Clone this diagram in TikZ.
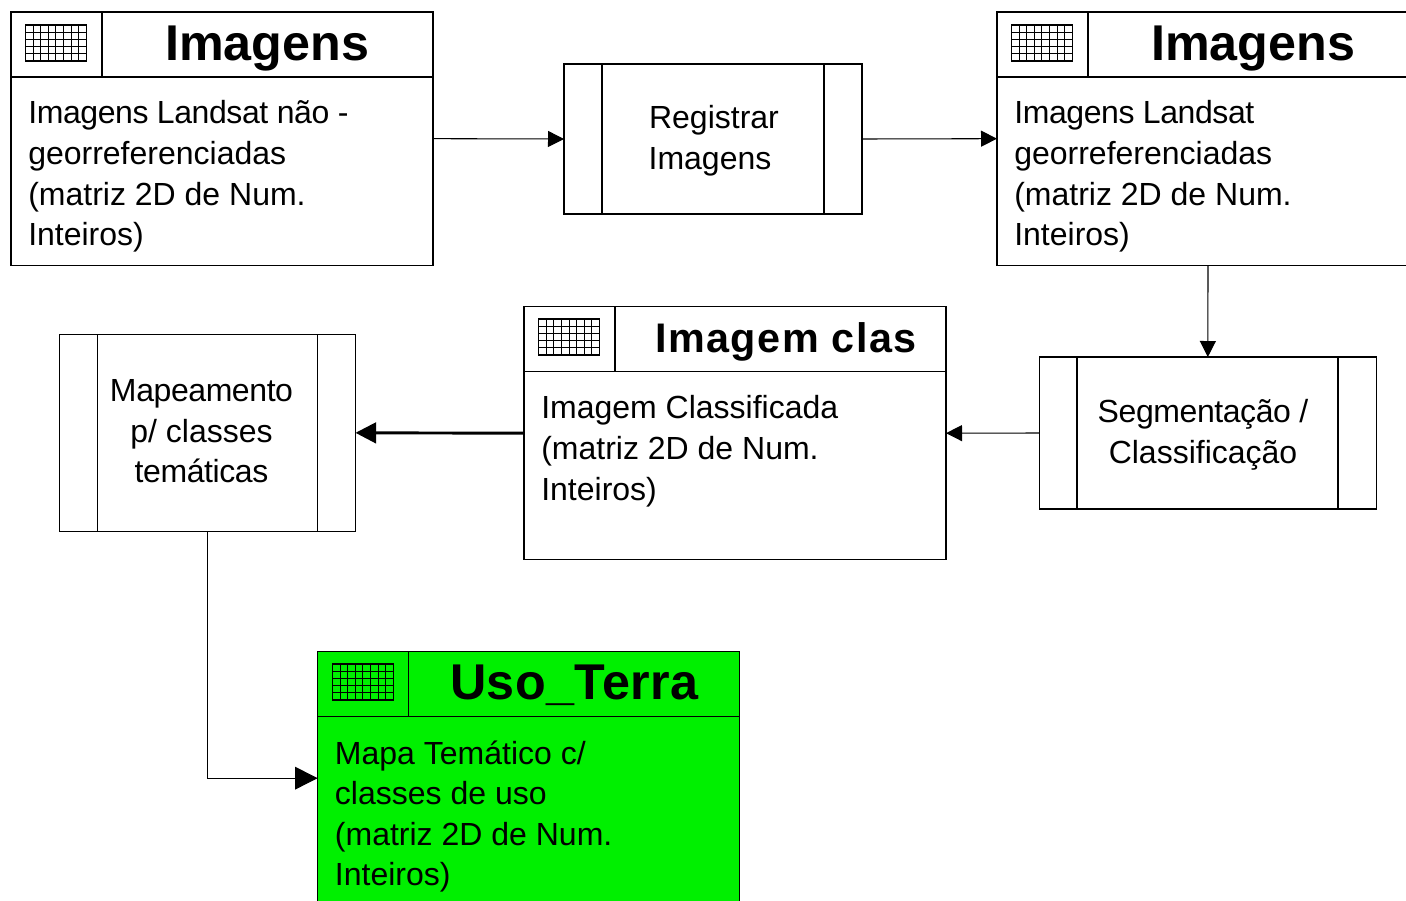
\documentclass[tikz,border=0pt]{standalone}
\usepackage{fontspec}
\setmainfont{Liberation Sans}
\usetikzlibrary{arrows.meta}
\definecolor{usegreen}{RGB}{0,240,0}
\tikzset{
  x=0.75pt,y=-0.75pt,
  frame/.style={draw=black,line width=0.8pt,inner sep=0pt,outer sep=0pt,anchor=north west},
  storebox/.style={frame,minimum width=316.5pt,minimum height=190pt},
  procbox/.style={frame},
  rule/.style={draw=black,line width=0.8pt},
  gridline/.style={draw=black,line width=0.85pt},
  bodytext/.style={inner sep=0pt,anchor=north west,align=left,font=\fontsize{24pt}{30.4pt}\selectfont},
  proctext/.style={inner sep=0pt,anchor=north,align=center,font=\fontsize{24pt}{30.4pt}\selectfont},
  titletext/.style={inner sep=0pt,anchor=base,font=\fontsize{37.7pt}{40pt}\selectfont\bfseries},
  smalltitle/.style={inner sep=0pt,anchor=base,font=\fontsize{31pt}{34pt}\selectfont\bfseries},
  flow/.style={draw=black,line width=0.8pt,-{Triangle[length=12pt,width=12pt]}},
  flowthick/.style={draw=black,line width=2.2pt,-{Triangle[length=15.5pt,width=15.5pt]}},
  flowbig/.style={draw=black,line width=0.8pt,-{Triangle[length=17pt,width=17pt]}},
}
\newcommand{\rastericon}[2]{%
  \begin{scope}[shift={(#1,#2)}]
    \draw[gridline] (0,0) rectangle (61,36);
    \foreach \gx in {7.6,15.2,...,54} \draw[gridline] (\gx,0) -- (\gx,36);
    \foreach \gy in {7.2,14.4,21.6,28.8} \draw[gridline] (0,\gy) -- (61,\gy);
  \end{scope}}
\newcommand{\storehead}[1]{%
  \draw[rule] (#1.north west) ++(0,65) coordinate (h#1) -- (h#1 -| #1.east);
  \draw[rule] (#1.north west) ++(91,0) coordinate (v#1) -- (v#1 |- h#1);
}
\newcommand{\tight}[1]{{\addfontfeature{LetterSpace=-1.3}#1}}
\begin{document}
\begin{tikzpicture}
\useasboundingbox (0,0) rectangle (1406,900);
\clip (0,0) rectangle (1406,900);

\node[storebox] (A) at (11,12) {};
\node[storebox] (B) at (997,12) {};
\node[storebox] (C) at (524,306.5) {};
\node[storebox,fill=usegreen] (D) at (317.7,651.5) {};
\storehead{A}
\storehead{B}
\storehead{C}
\storehead{D}
\rastericon{25.5}{25}
\rastericon{1011.5}{25}
\rastericon{538.7}{319}
\rastericon{332.5}{664}

\node[titletext] (Atitle) at (267,60) {Imagens};
\node[titletext] (Btitle) at (1253,60) {Imagens};
\node[smalltitle] (Ctitle) at (786,352) {\addfontfeature{LetterSpace=3.6}Imagem clas};
\node[titletext] (Dtitle) at (574.5,699) {\addfontfeature{LetterSpace=1}Uso\_Terra};

\node[bodytext] (Atext) at (28,100.5) {\tight{Imagens Landsat não -}\\georreferenciadas\\(matriz 2D de Num.\\Inteiros)};
\node[bodytext] (Btext) at (1014,100.5) {\tight{Imagens Landsat}\\georreferenciadas\\(matriz 2D de Num.\\Inteiros)};
\node[bodytext] (Ctext) at (541,395.5) {Imagem Classificada\\(matriz 2D de Num.\\Inteiros)};
\node[bodytext] (Dtext) at (334.7,740.5) {Mapa Temático c/\\classes de uso\\(matriz 2D de Num.\\Inteiros)};

\node[procbox,minimum width=223.5pt,minimum height=112.5pt] (R) at (564,64) {};
\node[procbox,minimum width=252.5pt,minimum height=114pt] (S) at (1039.5,357) {};
\node[procbox,minimum width=222pt,minimum height=147.5pt] (M) at (59.5,334.5) {};
\draw[rule] (602,64) -- (602,214) (824,64) -- (824,214);
\draw[rule] (1077,357) -- (1077,509) (1338,357) -- (1338,509);
\draw[rule] (97.5,334.5) -- (97.5,531) (317.5,334.5) -- (317.5,531);

\node[proctext] (Rtext) at (714,105.5) {Registrar\\\hspace*{-6pt}Imagens};
\node[proctext] (Stext) at (1203,399.5) {\tight{Segmentação /}\\Classificação};
\node[proctext] (Mtext) at (201.5,379.5) {\tight{Mapeamento}\\p/ classes\\\tight{temáticas}};

\draw[flow] (A.east) -- (R.west);
\draw[flow] (R.east) -- (B.west);
\draw[flow] (B.south) -- (S.north);
\draw[flow] (S.west) -- (C.east);
\draw[flowthick] (C.west) -- (M.east);
\draw[flowbig] (M.south) |- (D.west);
\end{tikzpicture}
\end{document}
